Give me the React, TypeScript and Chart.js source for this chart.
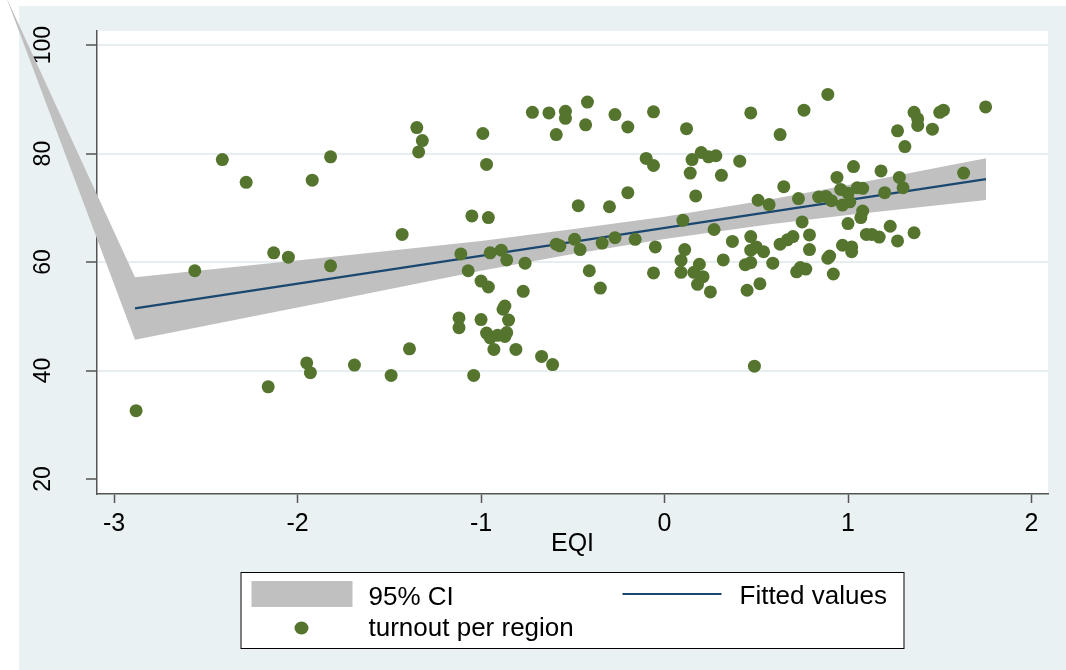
import React, { useEffect, useRef } from "react";
import { Chart, registerables } from "chart.js";

// ---------- data ----------
const eqi = [
  -2.41, -2.28, -1.82, -1.92, -2.56, -2.13, -2.05, -1.82, -2.88, -2.16, -1.95, -1.93, -1.69,
  -1.35, -1.32, -1.34, -0.99, -0.97, -0.72, -0.63, -0.54, -0.54, -0.59, -0.42, -0.43, -0.27, -0.2, -0.06, 0.12,
  -0.1, -0.06, 0.15, 0.2, 0.24, 0.28, 0.14, 0.31, 0.17, -0.2, -0.47, -0.3, -1.05, -0.96, -1.43, 0.1, 0.27,
  -1.11, -0.95, -0.89, -0.86, -0.76, -1.07, -0.59, -0.57, -0.49, -0.46, -0.34, -0.27, -0.16, -0.05, 0.11,
  0.09, 0.19, 0.32, -0.06, 0.09, 0.16, 0.21, 0.18, 0.25, -0.41, -0.35, -1.0, -0.96, -0.77,
  -0.87, -0.88, -1.12, -1.12, -1.0, -0.85, -0.97, -0.95, -0.91, -0.86, -0.87, -0.93, -0.81, -1.39, -0.67,
  -0.61, -1.49, -1.04,
  0.47, 0.76, 0.89, 0.63, 1.75, 1.36, 1.38, 1.38, 1.5, 1.52, 1.27, 1.46, 1.31, 0.41, 1.03, 1.18, 0.94,
  1.28, 1.63, 0.65, 0.51, 0.57, 0.73, 0.84, 0.88, 0.91, 0.96, 1.0, 0.97, 1.01, 1.05, 1.08, 1.2, 1.3,
  0.75, 1.08, 1.07, 1.0, 0.37, 0.47, 0.47, 0.5, 0.54, 0.63, 0.67, 0.7, 0.79, 0.79, 0.44, 0.47, 0.59,
  0.45, 0.52, 0.72, 0.74, 0.77, 0.89, 0.9, 0.92, 0.97, 1.02, 1.02, 1.1, 1.13, 1.17, 1.23, 1.27, 1.36, 0.49,
];
const turnout = [
  78.9, 74.7, 79.4, 75.1, 58.4, 61.7, 60.9, 59.3, 32.6, 37.0, 41.4, 39.6, 41.0,
  84.8, 82.4, 80.3, 83.7, 78.0, 87.6, 87.5, 87.8, 86.5, 83.5, 89.5, 85.3, 87.2, 84.9, 87.7, 84.6,
  79.1, 77.8, 78.9, 80.2, 79.4, 79.6, 76.4, 76.0, 72.2, 72.8, 70.4, 70.2, 68.5, 68.2, 65.1, 67.7, 66.0,
  61.5, 61.7, 62.2, 60.4, 59.8, 58.4, 63.3, 63.0, 64.2, 62.3, 63.5, 64.5, 64.2, 62.8, 62.3,
  60.3, 59.6, 60.4, 58.0, 58.1, 58.1, 57.3, 55.9, 54.5, 58.4, 55.2, 56.5, 55.4, 54.6,
  51.9, 51.3, 49.7, 47.9, 49.4, 49.3, 46.9, 46.0, 46.5, 47.0, 46.3, 43.9, 43.9, 44.0, 42.6,
  41.1, 39.1, 39.1,
  87.5, 88.0, 90.9, 83.5, 88.6, 87.6, 86.4, 85.2, 87.6, 88.0, 84.2, 84.5, 81.3, 78.6, 77.6, 76.8, 75.6,
  75.6, 76.4, 73.9, 71.4, 70.6, 71.7, 72.0, 72.1, 71.3, 73.4, 72.7, 70.5, 71.1, 73.7, 73.6, 72.8, 73.7,
  67.4, 69.4, 68.2, 67.1, 63.8, 64.7, 62.2, 62.8, 61.9, 63.3, 64.1, 64.7, 65.0, 62.3, 59.5, 59.9, 59.8,
  54.8, 56.0, 58.2, 59.0, 58.7, 60.7, 61.1, 57.8, 63.1, 62.8, 61.9, 65.1, 65.1, 64.6, 66.6, 63.9, 65.4, 40.8,
];

const fitX = [-2.886, 1.752];
const fitY = [51.47, 75.3];

const ciX = [-3.583, -2.886, -1.807, -1.0, -0.515, 0.0, 0.575, 1.0, 1.752];
const ciUpper = [108.5, 57.2, 61.0, 63.9, 66.0, 68.35, 71.55, 74.2, 79.15];
const ciLower = [108.4, 45.7, 52.9, 58.4, 61.4, 64.25, 66.95, 68.7, 71.45];

const xTitle = "EQI";
const ciLabel = "95% CI";
const fitLabel = "Fitted values";
const dotLabel = "turnout per region";

// ---------- styles ----------
const FONT = "'Liberation Sans', Arial, Helvetica, sans-serif";
const OUTER_BG = "#EAF1F3";
const GRID = "#E6EEF1";
const AXIS = "#555555";
const CI_COLOR = "#C0C0C0";
const FIT_COLOR = "#1A476F";
const DOT_COLOR = "#55752F";

// lets the CI fill run outside the plot region, as in the reference
const unclipBand = {
  id: "unclipBand",
  beforeDatasetDraw(chart: any, args: any) {
    if (args.index === 0) {
      chart.$savedArea = chart.chartArea;
      chart.chartArea = {
        left: 0,
        top: 0,
        right: chart.width,
        bottom: chart.height,
        width: chart.width,
        height: chart.height,
      };
    }
  },
  afterDatasetDraw(chart: any, args: any) {
    if (args.index === 0 && chart.$savedArea) {
      chart.chartArea = chart.$savedArea;
      chart.$savedArea = null;
    }
  },
};
Chart.register(unclipBand);
Chart.register(...registerables);

const backgroundPlugin = {
  id: "bgPlugin",
  beforeDraw(chart: any) {
    const { ctx, chartArea: a } = chart;
    ctx.save();
    ctx.fillStyle = "#ffffff";
    ctx.fillRect(0, 0, chart.width, chart.height);
    ctx.fillStyle = OUTER_BG;
    ctx.fillRect(19, 6, chart.width - 19, chart.height - 6);
    ctx.fillStyle = "#ffffff";
    ctx.fillRect(a.left, a.top, a.right - a.left, a.bottom - a.top);
    ctx.restore();
  },
  beforeDatasetsDraw(chart: any) {
    const { ctx } = chart;
    const y = chart.scales.y;
    ctx.save();
    ctx.font = `23px ${FONT}`;
    ctx.fillStyle = "#000";
    ctx.textAlign = "center";
    ctx.textBaseline = "middle";
    for (const t of y.ticks) {
      const py = y.getPixelForValue(t.value);
      ctx.save();
      ctx.translate(y.right - 53, py);
      ctx.rotate(-Math.PI / 2);
      ctx.fillText(String(t.value), 0, 0);
      ctx.restore();
    }
    ctx.restore();
  },
  afterDraw(chart: any) {
    const { ctx } = chart;
    const cx = (chart.chartArea.left + chart.chartArea.right) / 2;
    const bx = cx - 332;
    const by = 572;
    ctx.save();
    ctx.fillStyle = "#fff";
    ctx.fillRect(bx, by, 664, 77);
    ctx.strokeStyle = "#000";
    ctx.lineWidth = 1;
    ctx.strokeRect(bx + 0.5, by + 0.5, 663, 76);
    // CI swatch
    ctx.fillStyle = CI_COLOR;
    ctx.fillRect(bx + 11, by + 9, 101, 26);
    // fitted line swatch
    ctx.strokeStyle = FIT_COLOR;
    ctx.lineWidth = 2;
    ctx.beginPath();
    ctx.moveTo(bx + 382, by + 22);
    ctx.lineTo(bx + 481, by + 22);
    ctx.stroke();
    // dot
    ctx.fillStyle = DOT_COLOR;
    ctx.beginPath();
    ctx.ellipse(bx + 61, by + 56, 7, 6.5, 0, 0, Math.PI * 2);
    ctx.fill();
    // texts
    ctx.fillStyle = "#000";
    ctx.font = `26px ${FONT}`;
    ctx.textAlign = "left";
    ctx.textBaseline = "alphabetic";
    ctx.fillText(ciLabel, bx + 128, by + 33);
    ctx.fillText(fitLabel, bx + 499, by + 32);
    ctx.fillText(dotLabel, bx + 128, by + 64);
    ctx.restore();
  },
};

export default function App() {
  const ref = useRef<HTMLCanvasElement | null>(null);

  useEffect(() => {
    if (!ref.current) return;
    const chart = new Chart(ref.current, {
      type: "line",
      data: {
        datasets: [
          {
            label: "ci-upper",
            data: ciX.map((x, i) => ({ x, y: ciUpper[i] })),
            borderWidth: 0,
            borderColor: "rgba(0,0,0,0)",
            backgroundColor: CI_COLOR,
            pointRadius: 0,
            fill: "+1",
            clip: false as any,
            order: 3,
          },
          {
            label: "ci-lower",
            data: ciX.map((x, i) => ({ x, y: ciLower[i] })),
            borderWidth: 0,
            borderColor: "rgba(0,0,0,0)",
            backgroundColor: CI_COLOR,
            pointRadius: 0,
            fill: false,
            clip: false as any,
            order: 3,
          },
          {
            label: fitLabel,
            data: fitX.map((x, i) => ({ x, y: fitY[i] })),
            borderColor: FIT_COLOR,
            borderWidth: 2.2,
            pointRadius: 0,
            fill: false,
            order: 2,
          },
          {
            label: dotLabel,
            data: eqi.map((x, i) => ({ x, y: turnout[i] })),
            showLine: false,
            pointRadius: 6.5,
            pointBorderWidth: 0,
            pointBackgroundColor: DOT_COLOR,
            backgroundColor: DOT_COLOR,
            borderColor: DOT_COLOR,
            fill: false,
            order: 1,
          },
        ],
      },
      options: {
        responsive: false,
        animation: false,
        devicePixelRatio: 1,
        events: [],
        layout: { padding: { left: 0, top: 31, right: 18, bottom: 106 } },
        plugins: {
          legend: { display: false },
          tooltip: { enabled: false },
        },
        scales: {
          x: {
            type: "linear",
            min: -3.093,
            max: 2.09,
            afterFit: (s: any) => {
              s.height = 70;
            },
            ticks: {
              stepSize: 1,
              includeBounds: false,
              color: "#000",
              font: { family: FONT, size: 25 },
              padding: 6,
              maxRotation: 0,
            },
            grid: {
              drawOnChartArea: false,
              drawTicks: true,
              tickLength: 9,
              tickColor: AXIS,
              tickWidth: 1.5,
            },
            border: { display: true, color: AXIS, width: 1.5 },
            title: {
              display: true,
              text: xTitle,
              color: "#000",
              font: { family: FONT, size: 25 },
              padding: { top: 0, bottom: 5 },
            },
          },
          y: {
            type: "linear",
            min: 17.24,
            max: 102.6,
            afterFit: (s: any) => {
              s.width = 97;
            },
            ticks: { stepSize: 20, includeBounds: false, display: false },
            grid: {
              color: (c: any) => (c.tick && c.tick.value === 20 ? "rgba(0,0,0,0)" : GRID),
              lineWidth: 2,
              drawTicks: true,
              tickLength: 11,
              tickColor: AXIS,
              tickWidth: 1.5,
            },
            border: { display: true, color: AXIS, width: 1.5 },
          },
        },
      },
      plugins: [backgroundPlugin],
    } as any);
    return () => chart.destroy();
  }, []);

  return (
    <div style={{ position: "fixed", left: 0, top: 0, width: 1066, height: 670 }}>
      <canvas ref={ref} width={1066} height={670} style={{ display: "block", width: 1066, height: 670 }} />
    </div>
  );
}
